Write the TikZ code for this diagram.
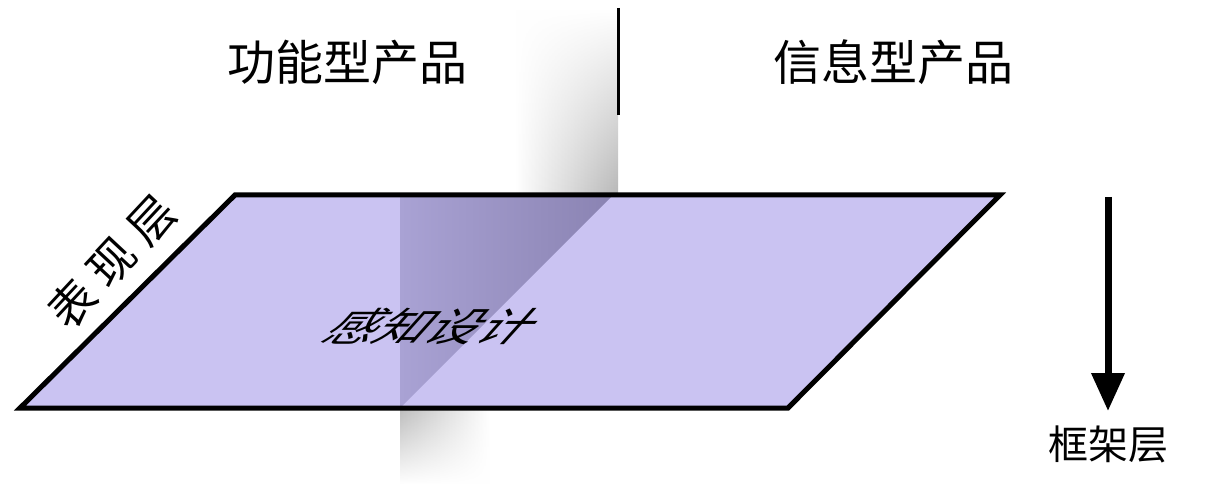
\documentclass[tikz,border=0pt]{standalone}
\usepackage{fontspec}
\newfontfamily\cjk{Noto Sans CJK SC}
\newfontfamily\cjkwide[LetterSpace=25]{Noto Sans CJK SC}
\usetikzlibrary{arrows.meta,fadings}
\definecolor{lav}{HTML}{CAC3F2}
\definecolor{lavdark}{HTML}{8A83B2}
\definecolor{lavmid}{HTML}{A9A2D4}
\tikzfading[name=fadeup, top color=transparent!100, bottom color=transparent!0]
\tikzfading[name=fadedown, top color=transparent!0, bottom color=transparent!100]
\begin{document}
\begin{tikzpicture}[x=1pt,y=-1pt,
  title/.style={font=\cjk\fontsize{48}{48}\selectfont, inner sep=0pt},
  label/.style={font=\cjk\fontsize{40}{40}\selectfont, inner sep=0pt},
  border/.style={line width=5pt, line join=miter},
  divider/.style={line width=3pt},
  downarrow/.style={line width=7pt, -{Triangle[length=38pt,width=32pt]}}]
\useasboundingbox (0,0) rectangle (1217,486);
\fill[white] (0,0) rectangle (1217,486);
% shaded vertical plane (behind and below)
\shade[left color=white, right color=black!28, path fading=fadeup] (515,10) rectangle (618,195);
\shade[left color=black!26, right color=white, path fading=fadedown] (400,408) rectangle (490,484);
% horizontal plane
\coordinate (TL) at (235,195);
\coordinate (TR) at (1000,195);
\coordinate (BR) at (788,408);
\coordinate (BL) at (20,408);
\coordinate (XT) at (613,195);
\coordinate (XL) at (400,195);
\coordinate (XB) at (400,408);
\fill[lav] (TL) -- (TR) -- (BR) -- (BL) -- cycle;
\shade[left color=lavmid, right color=lavdark] (XL) -- (XT) -- (XB) -- cycle;
\draw[border] (TL) -- (TR) -- (BR) -- (BL) -- cycle;
% divider
\coordinate (vtop) at (618,8);
\coordinate (vbot) at (618,115);
\draw[divider] (vtop) -- (vbot);
% titles
\node[title] (func) at (347,62) {功能型产品};
\node[title] (info) at (893,62) {信息型产品};
% labels on plane
\node[font=\cjkwide\fontsize{46}{46}\selectfont, inner sep=0pt, rotate=47] (surface) at (112,262) {表现层};
\node[font=\cjk\fontsize{44}{44}\selectfont, inner sep=0pt, xslant=0.9, yscale=0.9, xscale=1.15] (percept) at (434,326) {感知设计};
% arrow
\coordinate (atop) at (1108,197);
\coordinate (abot) at (1108,411);
\node[label] (frame) at (1108,444) {框架层};
\draw[downarrow] (atop) -- (abot);
\end{tikzpicture}
\end{document}
